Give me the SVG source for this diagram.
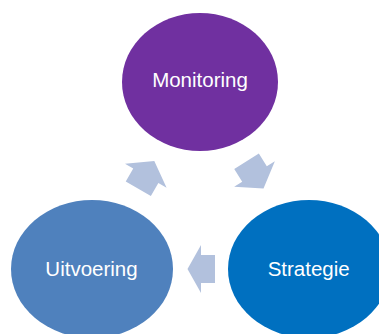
<svg xmlns="http://www.w3.org/2000/svg" width="379" height="334" viewBox="0 0 379 334">
<style>
  .lbl { font-family: "Liberation Sans", Arial, sans-serif; font-size: 20.5px; fill: #ffffff; text-anchor: middle; }
  .arrow { fill: #B2C1DD; }
</style>
<defs>
  <path id="arr" d="M -14 -14 L 0 -14 L 0 -24 L 13.5 0 L 0 24 L 0 14 L -14 14 Z"/>
  <path id="arrd" d="M -15 -14.5 L 0 -14.5 L 0 -24 L 17 0 L 0 24 L 0 14.5 L -15 14.5 Z"/>
</defs>
<rect width="379" height="334" fill="#ffffff"/>
<g id="connectors">
  <use href="#arrd" class="arrow" transform="translate(145.8,175.7) rotate(-60)"/>
  <use href="#arrd" class="arrow" transform="translate(254.5,174) rotate(58)"/>
  <use href="#arr" class="arrow" transform="translate(201,269) rotate(180)"/>
</g>
<g id="monitoring">
  <ellipse cx="200" cy="82" rx="78" ry="69" fill="#7030A0"/>
  <text class="lbl" x="200" y="87">Monitoring</text>
</g>
<g id="uitvoering">
  <ellipse cx="92" cy="269" rx="81" ry="69" fill="#4F81BD"/>
  <text class="lbl" x="91.5" y="276">Uitvoering</text>
</g>
<g id="strategie">
  <ellipse cx="309" cy="269" rx="81" ry="69" fill="#0070C0"/>
  <text class="lbl" x="308.7" y="276">Strategie</text>
</g>
</svg>
